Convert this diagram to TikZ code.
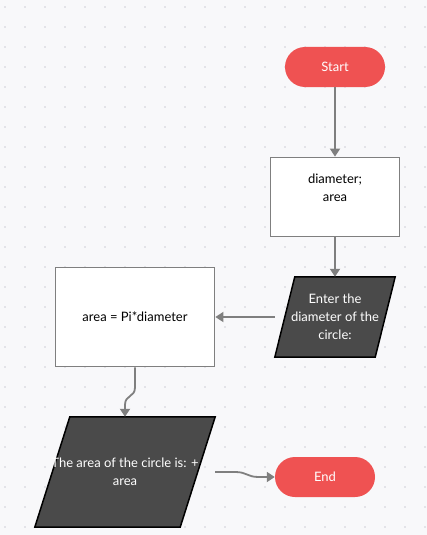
\documentclass[tikz,border=0pt]{standalone}
\usepackage{fontspec}
\setmainfont{Lato}
\usetikzlibrary{positioning,arrows.meta,backgrounds}
\definecolor{bgcol}{HTML}{F8F8FA}
\definecolor{dotcol}{HTML}{CFCFD6}
\definecolor{termred}{HTML}{EF5252}
\definecolor{iodark}{HTML}{4A4A4A}
\definecolor{linegray}{HTML}{7F7F7F}

\begin{document}
\begin{tikzpicture}[x=1pt,y=-1pt,font=\fontsize{13}{18}\selectfont,
  term/.style={fill=termred,rounded corners=20pt,minimum width=100pt,minimum height=40pt,text=white,inner sep=0pt},
  procbox/.style={draw=linegray,line width=1.8pt,fill=white,align=center,inner sep=0pt},
  iobox/.style={minimum width=#1,inner sep=0pt,text=white,align=center},
  iodraw/.style={fill=iodark,draw=black,line width=1.5pt},
  flow/.style={draw=linegray,line width=1.8pt,-{Triangle[length=8pt,width=10pt]}}]
\useasboundingbox (0,0) rectangle (427,535);

% ================= Nodes =================
\node[term] (start) at (335,67) {Start};
\node[procbox,minimum width=129pt,minimum height=79pt] (vars) at (335,197) {diameter;\\area\\\mbox{}};
\node[iobox=120pt,minimum height=80pt] (input) at (335,317) {Enter the\\diameter of the\\circle:};
\node[procbox,minimum width=159pt,minimum height=99pt] (calc) at (135,317) {area = Pi*diameter};
\node[iobox=180pt,minimum height=110pt] (output) at (125,472) {The area of the circle is: +\\area};
\node[term] (end) at (325,477) {End};

% ================= Background and input/output shapes =================
\begin{scope}[on background layer]
\fill[bgcol] (0,0) rectangle (427,535);
\foreach \x in {5,25,...,425}{
  \foreach \y in {7,27,...,527}{\fill[dotcol] (\x,\y) circle (0.8);}
}
\draw[iodraw] (input.south west) -- ([xshift=-20pt]input.south east) -- (input.north east) -- ([xshift=20pt]input.north west) -- cycle;
\draw[iodraw] (output.south west) -- ([xshift=-35pt]output.south east) -- (output.north east) -- ([xshift=35pt]output.north west) -- cycle;
\end{scope}

% ================= Connectors =================
\draw[flow] (start) -- (vars);
\draw[flow] (vars) -- (input);
\draw[flow] (input) -- (calc);
\draw[flow] (calc.south) -- ++(0,20) .. controls +(0,10) and +(0,-10) .. ([yshift=12pt]output.north) -- (output.north);
\draw[flow] (output.east) -- ++(20,0) .. controls +(12,0) and +(-12,0) .. ([xshift=-16pt]end.west) -- (end.west);
\end{tikzpicture}
\end{document}
